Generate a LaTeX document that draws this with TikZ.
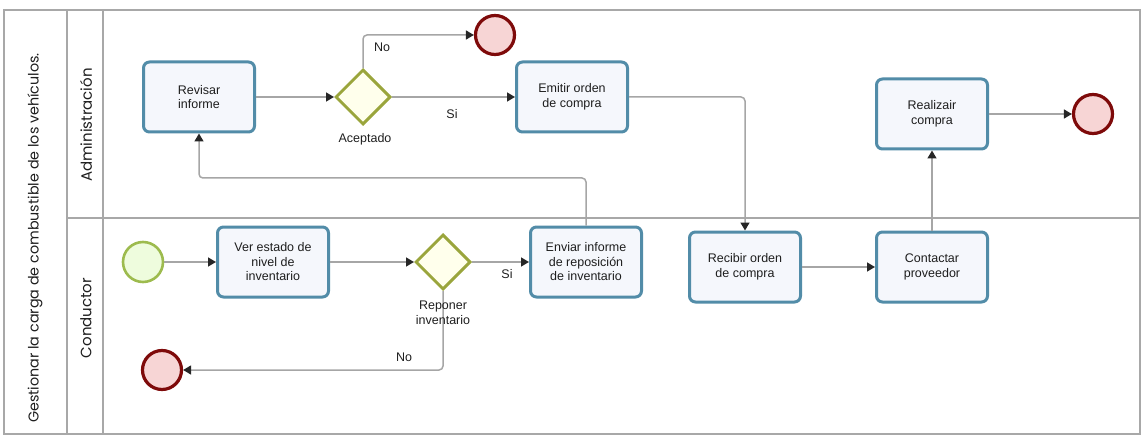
\documentclass[tikz,border=0pt]{standalone}
\usepackage{fontspec}
\setmainfont{Liberation Sans}
\newfontfamily\geofont{Poppins}
\usetikzlibrary{arrows.meta,shapes.geometric}
\definecolor{taskborder}{HTML}{528CA8}
\definecolor{taskfill}{HTML}{F5F7FC}
\definecolor{gwborder}{HTML}{9AA53C}
\definecolor{gwfill}{HTML}{FFFFEC}
\definecolor{stborder}{HTML}{9DBB4E}
\definecolor{stfill}{HTML}{EEFCDD}
\definecolor{endborder}{HTML}{7E0A0A}
\definecolor{endfill}{HTML}{F7D5D5}
\definecolor{flowgray}{HTML}{A6A6A6}
\definecolor{framegray}{HTML}{A8A8A8}
\definecolor{txt}{HTML}{1E1E1E}
\tikzset{
  task/.style={draw=taskborder, fill=taskfill, line width=3pt, rounded corners=6pt,
    minimum width=111pt, minimum height=70pt, align=center, text=txt,
    font=\fontsize{12.5}{14.5}\selectfont, inner sep=2pt},
  gateway/.style={diamond, draw=gwborder, fill=gwfill, line width=3pt,
    minimum width=55pt, minimum height=55pt, inner sep=0pt},
  startev/.style={circle, draw=stborder, fill=stfill, line width=2.6pt, minimum size=40pt, inner sep=0pt},
  endev/.style={circle, draw=endborder, fill=endfill, line width=3.2pt, minimum size=39pt, inner sep=0pt},
  flow/.style={draw=flowgray, line width=1.5pt, rounded corners=4pt,
    -{Triangle[length=8pt,width=9pt,color=black!85]}},
  lbl/.style={text=txt, font=\fontsize{12.5}{14.5}\selectfont, align=center, inner sep=0pt},
  frame/.style={draw=framegray, line width=2pt},
  lanelbl/.style={rotate=90, text=txt, inner sep=0pt}
}
\begin{document}
\begin{tikzpicture}[x=1pt,y=-1pt]
\useasboundingbox (0,0) rectangle (1144,441);
% frame
\draw[frame] (4,10) rectangle (1140,434);
\draw[frame] (67,10) -- (67,434);
\draw[frame] (103,10) -- (103,434);
\draw[frame] (67,218) -- (1140,218);
\node[lanelbl, font=\geofont\fontsize{14.3}{16}\selectfont] (pool) at (35,238) {Gestionar la carga de combustible de los vehículos.};
\node[lanelbl, font=\geofont\fontsize{15}{17}\selectfont] (ladm) at (86,125) {Administración};
\node[lanelbl, font=\geofont\fontsize{15}{17}\selectfont] (lcon) at (86,318) {Conductor};
% nodes
\node[task] (rev) at (199,97) {Revisar\\informe};
\node[gateway] (acc) at (363,97) {};
\node[endev] (endtop) at (495,35) {};
\node[task] (emi) at (572,97) {Emitir orden\\de compra};
\node[task] (real) at (932,114) {Realizair\\compra};
\node[endev] (endr) at (1093,114) {};
\node[startev] (start) at (143,262) {};
\node[task] (ver) at (273,262) {Ver estado de\\nivel de\\inventario};
\node[gateway] (rep) at (443,262) {};
\node[task] (env) at (586,262) {Enviar informe\\de reposición\\de inventario};
\node[endev] (endbl) at (162,370) {};
\node[task] (rec) at (745,267) {Recibir orden\\de compra};
\node[task] (con) at (932,267) {Contactar\\proveedor};
\coordinate (loop) at (586,178);
% flows
\draw[flow] (rev) -- (acc);
\draw[flow] (acc.north) |- (endtop);
\draw[flow] (acc) -- (emi);
\draw[flow] (emi.east) -| (rec.north);
\draw[flow] (env.north) -- (loop) -| (rev.south);
\draw[flow] (start) -- (ver);
\draw[flow] (ver) -- (rep);
\draw[flow] (rep) -- (env);
\draw[flow] (rep.south) |- (endbl);
\draw[flow] (rec) -- (con);
\draw[flow] (con.north) -- (real.south);
\draw[flow] (real) -- (endr);
% labels
\node[lbl] (lno1) at (382,47) {No};
\node[lbl] (lsi1) at (452,114) {Si};
\node[lbl] (lacc) at (365,139) {Aceptado};
\node[lbl] (lrep) at (443,313) {Reponer\\inventario};
\node[lbl] (lsi2) at (507,274) {Si};
\node[lbl] (lno2) at (404,357) {No};
\end{tikzpicture}
\end{document}
